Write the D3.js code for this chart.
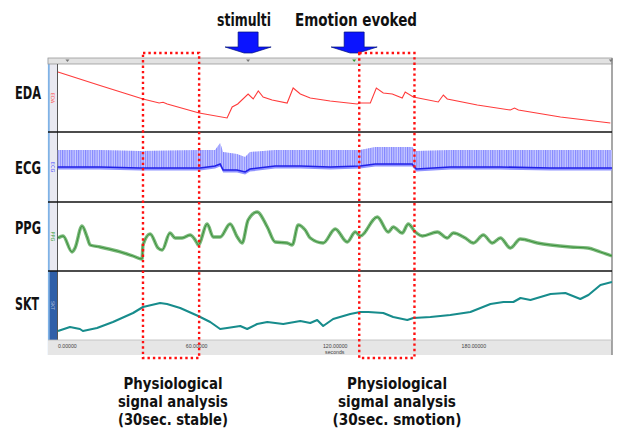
<!DOCTYPE html>
<html><head><meta charset="utf-8">
<script src="https://cdn.jsdelivr.net/npm/d3@7"></script>
<style>body{margin:0;background:#fff}svg{display:block}</style>
</head><body><svg id="chart" width="619" height="428"></svg>
<script>
// ---------------- data ----------------
const timeDomain = [0, 240];                 // seconds
const tickValues = [0, 60, 120, 180];
const axisTitle = "seconds";
const channelNames = ["EDA", "ECG", "PPG", "SKT"];

const eventTimes = [82.5, 128.4];
const eventLabels = ["stimulti", "Emotion evoked"];
const markerTimes = [4.3, 82.5, 128.4, 239.5];

const winStart = [37.0, 130.6];
const winEnd = [61.3, 154.5];
const winText1 = ["Physiological", "signal analysis", "(30sec. stable)"];
const winText2 = ["Physiological", "sigmal analysis", "(30sec. smotion)"];

// EDA (µS, arbitrary offset)
const edaTime = [0.2, 18.4, 37.0, 44.0, 45.7, 47.5, 61.3, 73.4, 75.6, 78.0, 82.5, 84.7, 86.9, 89.0, 92.9, 99.4, 102.0, 105.1, 109.4, 118.0, 129.7, 131.0, 135.4, 138.0, 141.0, 144.9, 149.2, 150.5, 154.0, 164.8, 167.0, 168.7, 181.7, 196.0, 197.8, 199.5, 217.7, 239.3];
const edaValue = [6.0, 4.65, 3.3, 2.9, 2.98, 2.8, 1.9, 1.4, 2.5, 2.8, 3.8, 3.3, 4.1, 3.5, 3.2, 2.9, 4.4, 3.8, 3.4, 3.1, 2.8, 2.9, 2.9, 4.4, 3.9, 3.8, 3.4, 4.0, 3.5, 3.0, 3.7, 3.3, 2.7, 2.2, 2.4, 2.2, 1.5, 0.9];

// ECG envelope (mV): R-peak tops and baseline
const ecgTime = [0, 18.4, 35.7, 61.7, 68.2, 70.4, 71.7, 77.7, 81.2, 83.3, 94.2, 105.1, 118.0, 131.0, 137.5, 146.2, 153.5, 155.3, 170.0, 191.7, 213.4, 240];
const ecgPeak = [2.60, 2.60, 2.55, 2.60, 2.60, 2.95, 2.50, 2.40, 2.25, 2.50, 2.60, 2.60, 2.60, 2.60, 2.75, 2.75, 2.75, 2.55, 2.60, 2.60, 2.60, 2.60];
const ecgBase = [1.75, 1.75, 1.70, 1.70, 1.80, 1.90, 1.60, 1.60, 1.50, 1.65, 1.80, 1.80, 1.75, 1.80, 1.90, 1.90, 1.90, 1.65, 1.75, 1.75, 1.70, 1.70];

// PPG (a.u.)
const ppgTime = [0.2, 2.4, 6.3, 7.6, 10.6, 12.8, 14.1, 18.4, 25.8, 32.7, 36.6, 37.0, 40.1, 43.5, 45.3, 48.7, 50.9, 53.9, 57.4, 60.4, 60.9, 64.8, 67.4, 70.4, 74.7, 77.8, 79.9, 82.5, 86.4, 90.8, 94.2, 99.4, 101.6, 104.2, 107.2, 109.4, 115.0, 120.2, 125.4, 128.9, 131.0, 138.4, 143.2, 145.3, 149.2, 151.8, 154.9, 157.9, 164.4, 168.7, 171.3, 176.5, 180.0, 184.3, 188.2, 191.7, 196.0, 200.3, 207.7, 213.4, 222.0, 229.4, 235.0, 240.0];
const ppgValue = [3.3, 3.5, 1.9, 2.3, 4.5, 3.4, 2.6, 2.4, 2.0, 1.5, 1.2, 2.6, 3.7, 2.3, 2.1, 3.8, 3.3, 3.3, 3.6, 2.8, 2.6, 4.7, 3.4, 3.4, 4.7, 3.4, 2.8, 5.1, 5.9, 4.4, 2.9, 2.8, 2.6, 4.6, 4.1, 3.3, 2.8, 4.2, 2.9, 3.9, 3.5, 5.4, 3.9, 4.4, 3.8, 4.7, 3.9, 3.5, 3.9, 3.3, 3.8, 3.3, 2.8, 3.6, 2.8, 3.3, 2.3, 3.2, 2.8, 2.6, 2.4, 2.3, 1.9, 1.5];

// SKT (°C)
const sktTime = [0.2, 5.4, 9.7, 11.0, 17.1, 24.0, 32.7, 37.0, 44.4, 47.4, 53.1, 60.9, 66.1, 70.4, 73.4, 79.1, 82.1, 86.4, 90.8, 97.7, 105.1, 109.4, 112.4, 115.0, 119.3, 126.7, 131.0, 134.5, 141.0, 145.3, 151.4, 154.0, 161.4, 170.0, 178.7, 187.4, 193.0, 197.3, 200.4, 204.7, 213.4, 219.8, 226.3, 229.8, 235.0, 240.0];
const sktValue = [30.9, 31.3, 31.1, 30.9, 31.2, 31.8, 32.7, 33.3, 33.7, 33.6, 33.2, 32.4, 31.8, 31.1, 31.2, 31.4, 31.1, 31.6, 31.8, 31.6, 31.9, 31.7, 32.0, 31.4, 32.1, 32.6, 32.8, 32.8, 32.7, 32.3, 32.0, 32.2, 32.3, 32.5, 32.8, 33.6, 33.8, 33.8, 34.2, 34.0, 34.6, 34.7, 34.1, 34.5, 35.5, 35.8];

// ---------------- layout ----------------
const svg = d3.select("#chart");
const L = {left: 48, plot: 57.5, right: 612, barTop: 58, top: 64, bottom: 340, axisBottom: 355};
const panelEdges = [64, 132, 202, 271, 340];
const labelBaselines = [99, 174, 234, 310];
const labelFont = "'Liberation Sans Narrow','DejaVu Sans Condensed','Liberation Sans',sans-serif";

const x = d3.scaleLinear().domain(timeDomain).range([L.plot, L.right]);
const yEDA = d3.scaleLinear().domain([0, 6.8]).range([panelEdges[1], panelEdges[0]]);
const yECG = d3.scaleLinear().domain([0, 3.5]).range([panelEdges[2], panelEdges[1]]);
const yPPG = d3.scaleLinear().domain([0, 6.9]).range([panelEdges[3], panelEdges[2]]);
const ySKT = d3.scaleLinear().domain([30, 36.9]).range([panelEdges[4], panelEdges[3]]);

const defs = svg.append("defs");
const pat = defs.append("pattern").attr("id", "beats").attr("patternUnits", "userSpaceOnUse")
  .attr("width", 2.3).attr("height", 10);
pat.append("rect").attr("x", 0).attr("y", 0).attr("width", 1.1).attr("height", 10).attr("fill", "#8386ff");
defs.append("clipPath").attr("id", "plotclip").append("rect")
  .attr("x", L.plot).attr("y", L.top).attr("width", L.right - L.plot).attr("height", L.bottom - L.top);

// frame background
svg.append("rect").attr("x", L.left).attr("y", L.barTop).attr("width", L.right - L.left).attr("height", L.axisBottom - L.barTop).attr("fill", "#fff");
// sidebar
svg.append("rect").attr("x", L.left).attr("y", L.barTop).attr("width", L.plot - L.left).attr("height", L.axisBottom - L.barTop).attr("fill", "#e9e9f1");
svg.append("rect").attr("x", L.left).attr("y", panelEdges[3]).attr("width", L.plot - L.left).attr("height", panelEdges[4] - panelEdges[3]).attr("fill", "#2f5fa8");
svg.append("line").attr("x1", L.left + 0.8).attr("x2", L.left + 0.8).attr("y1", L.barTop).attr("y2", L.axisBottom).attr("stroke", "#7fb2e6").attr("stroke-width", 1.8);
// top bar
svg.append("rect").attr("x", L.left).attr("y", L.barTop).attr("width", L.right - L.left).attr("height", L.top - L.barTop).attr("fill", "#e2e2e2").attr("stroke", "#9a9a9a").attr("stroke-width", 0.8);
// bottom axis bar
svg.append("rect").attr("x", L.left).attr("y", L.bottom).attr("width", L.right - L.left).attr("height", L.axisBottom - L.bottom).attr("fill", "#e6e6e6");
// plot vertical edges
svg.append("line").attr("x1", L.plot).attr("x2", L.plot).attr("y1", L.top).attr("y2", L.bottom).attr("stroke", "#555").attr("stroke-width", 1);
svg.append("line").attr("x1", L.right).attr("x2", L.right).attr("y1", L.barTop).attr("y2", L.axisBottom).attr("stroke", "#8a8a8a").attr("stroke-width", 1.5);

// top bar markers
markerTimes.forEach((t, i) => {
  const mx = x(t);
  svg.append("path").attr("d", `M${mx - 2},${L.barTop + 1.5}L${mx + 2},${L.barTop + 1.5}L${mx},${L.barTop + 4}Z`)
    .attr("fill", i === 2 ? "#2a9a2a" : "#777");
});

// panel separators
panelEdges.slice(1, 4).forEach(py => {
  svg.append("line").attr("x1", L.left).attr("x2", L.right).attr("y1", py).attr("y2", py).attr("stroke", "#111").attr("stroke-width", 1.3);
});
svg.append("line").attr("x1", L.left).attr("x2", L.right).attr("y1", L.bottom).attr("y2", L.bottom).attr("stroke", "#bbb").attr("stroke-width", 0.8);

// small sidebar channel tags
const tagColors = ["#ff5050", "#5050ff", "#40a040", "#a8b8d8"];
channelNames.forEach((n, i) => {
  const cy = (panelEdges[i] + panelEdges[i + 1]) / 2;
  svg.append("text").attr("transform", `translate(${(L.left + L.plot) / 2 - 1.5},${cy}) rotate(90)`)
    .attr("text-anchor", "middle").attr("font-family", "'DejaVu Sans',sans-serif").attr("font-size", 5)
    .attr("fill", tagColors[i]).text(n);
});

const g = svg.append("g").attr("clip-path", "url(#plotclip)");

// EDA
g.append("path").datum(edaTime.map((t, i) => [t, edaValue[i]]))
  .attr("d", d3.line().x(d => x(d[0])).y(d => yEDA(d[1])))
  .attr("fill", "none").attr("stroke", "#ff3b3b").attr("stroke-width", 1.1);

// ECG
const ecgData = ecgTime.map((t, i) => ({t, p: ecgPeak[i], b: ecgBase[i]}));
const ecgArea = d3.area().x(d => x(d.t)).y0(d => yECG(d.b)).y1(d => yECG(d.p));
g.append("path").datum(ecgData).attr("d", ecgArea).attr("fill", "#c9cbff");
g.append("path").datum(ecgData).attr("d", ecgArea).attr("fill", "url(#beats)");
g.append("path").datum(ecgData)
  .attr("d", d3.area().x(d => x(d.t)).y0(d => yECG(d.b - 0.13)).y1(d => yECG(d.b)))
  .attr("fill", "#9093ff");
g.append("path").datum(ecgData)
  .attr("d", d3.line().x(d => x(d.t)).y(d => yECG(d.b)))
  .attr("fill", "none").attr("stroke", "#2222e8").attr("stroke-width", 1.6);

// PPG
const ppgData = ppgTime.map((t, i) => [t, ppgValue[i]]);
const ppgLine = d3.line().x(d => x(d[0])).y(d => yPPG(d[1])).curve(d3.curveMonotoneX);
g.append("path").datum(ppgData).attr("d", ppgLine).attr("fill", "none").attr("stroke", "#5aa85a").attr("stroke-width", 3.4).attr("stroke-opacity", 0.8);
g.append("path").datum(ppgData).attr("d", ppgLine).attr("fill", "none").attr("stroke", "#3a8f3a").attr("stroke-width", 1);

// SKT
g.append("path").datum(sktTime.map((t, i) => [t, sktValue[i]]))
  .attr("d", d3.line().x(d => x(d[0])).y(d => ySKT(d[1])))
  .attr("fill", "none").attr("stroke", "#178c8c").attr("stroke-width", 2.1).attr("stroke-linejoin", "round");

// bottom axis
const axis = d3.axisBottom(x).tickValues(tickValues).tickFormat(d3.format(".5f")).tickSize(0).tickPadding(0);
const ax = svg.append("g").attr("transform", `translate(0,${L.bottom + 3})`).call(axis);
ax.select(".domain").remove();
ax.selectAll("text").attr("font-family", "'Liberation Sans',Arial,sans-serif").attr("font-size", 5.2).attr("fill", "#444").attr("dy", "0.9em")
  .attr("text-anchor", (d, i) => i === 0 ? "start" : "middle");
svg.append("text").attr("x", x(120)).attr("y", L.bottom + 13.5).attr("text-anchor", "middle")
  .attr("font-family", "'Liberation Sans',Arial,sans-serif").attr("font-size", 5.2).attr("fill", "#444").text(axisTitle);

// channel labels
channelNames.forEach((n, i) => {
  svg.append("text").attr("x", 15).attr("y", labelBaselines[i])
    .attr("font-family", labelFont).attr("font-weight", "bold").attr("font-size", 17.5)
    .attr("textLength", n === "SKT" ? 24 : 26).attr("lengthAdjust", "spacingAndGlyphs")
    .attr("fill", "#111").text(n);
});

// event arrows + labels
const eventLabelWidths = [54, 122];
const eventLabelCenters = [244, 356];
eventTimes.forEach((t, i) => {
  const ex = x(t);
  svg.append("path")
    .attr("d", `M${ex - 10},32L${ex + 10},32L${ex + 10},47L${ex + 23},47L${ex + 4},53L${ex - 4},53L${ex - 23},47L${ex - 10},47Z`)
    .attr("fill", "#0b14ff").attr("stroke", "#00117a").attr("stroke-width", 0.7);
  svg.append("text").attr("x", eventLabelCenters[i] - eventLabelWidths[i] / 2).attr("y", 26)
    .attr("font-family", labelFont).attr("font-weight", "bold").attr("font-size", 17)
    .attr("textLength", eventLabelWidths[i]).attr("lengthAdjust", "spacingAndGlyphs")
    .attr("fill", "#111").text(eventLabels[i]);
});

// analysis windows (dotted boxes)
winStart.forEach((s, i) => {
  svg.append("rect").attr("x", x(s)).attr("y", 53).attr("width", x(winEnd[i]) - x(s)).attr("height", 305)
    .attr("fill", "none").attr("stroke", "#ff1010").attr("stroke-width", 2.4).attr("stroke-dasharray", "2.4,3");
});

// window captions
const captionSets = [winText1, winText2];
const captionCenters = [173, 397];
const captionWidths = [[99, 110, 110], [100, 118, 129]];
captionSets.forEach((lines, k) => {
  lines.forEach((s, j) => {
    svg.append("text").attr("x", captionCenters[k] - captionWidths[k][j] / 2).attr("y", 389 + j * 18)
      .attr("font-family", labelFont).attr("font-weight", "bold").attr("font-size", 16.5)
      .attr("textLength", captionWidths[k][j]).attr("lengthAdjust", "spacingAndGlyphs")
      .attr("fill", "#111").text(s);
  });
});
</script></body></html>
